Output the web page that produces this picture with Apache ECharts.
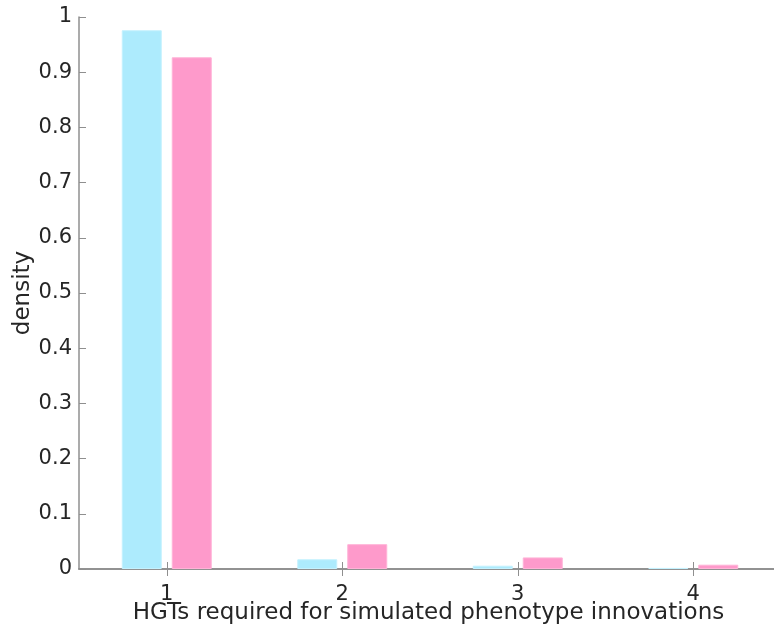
<!DOCTYPE html>
<html>
<head>
<meta charset="utf-8">
<script src="https://cdn.jsdelivr.net/npm/echarts@6/dist/echarts.min.js"></script>
<style>
  html, body { margin: 0; padding: 0; background: #ffffff; }
  #chart { width: 774px; height: 629px; }
</style>
</head>
<body>
<div id="chart"></div>
<script>
// Number of HGTs needed per simulated innovation, two simulation sets
const categories = ['1', '2', '3', '4'];
const seriesA = [0.976, 0.0176, 0.006, 0.002];
const seriesB = [0.927, 0.045, 0.021, 0.0078];
const yTicks = [0, 0.1, 0.2, 0.3, 0.4, 0.5, 0.6, 0.7, 0.8, 0.9, 1];

const FONT = 'DejaVu Sans';
const AXIS_GREY = '#8f8f8f';
const TEXT = '#262626';

const chart = echarts.init(document.getElementById('chart'), null, { renderer: 'canvas' });

const tickStyle = { show: true, inside: true, length: 7, lineStyle: { color: AXIS_GREY, width: 1 } };

chart.setOption({
  animation: false,
  backgroundColor: '#ffffff',
  grid: { left: 79, top: 17, right: -7, bottom: 60, containLabel: false, outerBoundsMode: 'none' },
  xAxis: [
    {
      type: 'category',
      data: categories,
      position: 'bottom',
      boundaryGap: true,
      axisLine: { show: true, lineStyle: { color: '#7f7f7f', width: 1.5 } },
      axisTick: Object.assign({ alignWithLabel: true }, tickStyle),
      axisLabel: { color: TEXT, fontFamily: FONT, fontSize: 21, margin: 8, lineHeight: 36 },
      name: 'HGTs required for simulated phenotype innovations',
      nameLocation: 'middle',
      nameGap: 33,
      nameMoveOverlap: false,
      nameTextStyle: { color: TEXT, fontFamily: FONT, fontSize: 23, padding: [0, 3, 0, 0] },
      splitLine: { show: false }
    },
    {
      type: 'category',
      data: categories,
      position: 'top',
      boundaryGap: true,
      axisLine: { show: true, lineStyle: { color: AXIS_GREY, width: 1.5 } },
      axisTick: Object.assign({ alignWithLabel: true }, tickStyle),
      axisLabel: { show: false },
      splitLine: { show: false }
    }
  ],
  yAxis: [
    {
      type: 'value',
      min: 0,
      max: 1,
      interval: 0.1,
      position: 'left',
      axisLine: { show: true, lineStyle: { color: AXIS_GREY, width: 1.5 } },
      axisTick: tickStyle,
      axisLabel: {
        color: TEXT, fontFamily: FONT, fontSize: 21, margin: 7,
        formatter: v => {
          const t = yTicks.find(k => Math.abs(k - v) < 1e-9);
          return t === undefined ? '' : String(t);
        }
      },
      name: 'density',
      nameLocation: 'middle',
      nameGap: 44,
      nameMoveOverlap: false,
      nameRotate: 90,
      nameTextStyle: { color: TEXT, fontFamily: FONT, fontSize: 23 },
      splitLine: { show: false }
    },
    {
      type: 'value',
      min: 0,
      max: 1,
      interval: 0.1,
      position: 'right',
      axisLine: { show: true, lineStyle: { color: AXIS_GREY, width: 1.5 } },
      axisTick: tickStyle,
      axisLabel: { show: false },
      splitLine: { show: false }
    }
  ],
  series: [
    {
      type: 'bar',
      data: seriesA,
      barWidth: 40,
      barGap: '25%',
      itemStyle: { color: '#adebfd', borderColor: '#c4f1fe', borderWidth: 1 }
    },
    {
      type: 'bar',
      data: seriesB,
      barWidth: 40,
      barGap: '25%',
      itemStyle: { color: '#fe9acb', borderColor: '#ffb3d7', borderWidth: 1 }
    }
  ]
});
</script>
</body>
</html>
